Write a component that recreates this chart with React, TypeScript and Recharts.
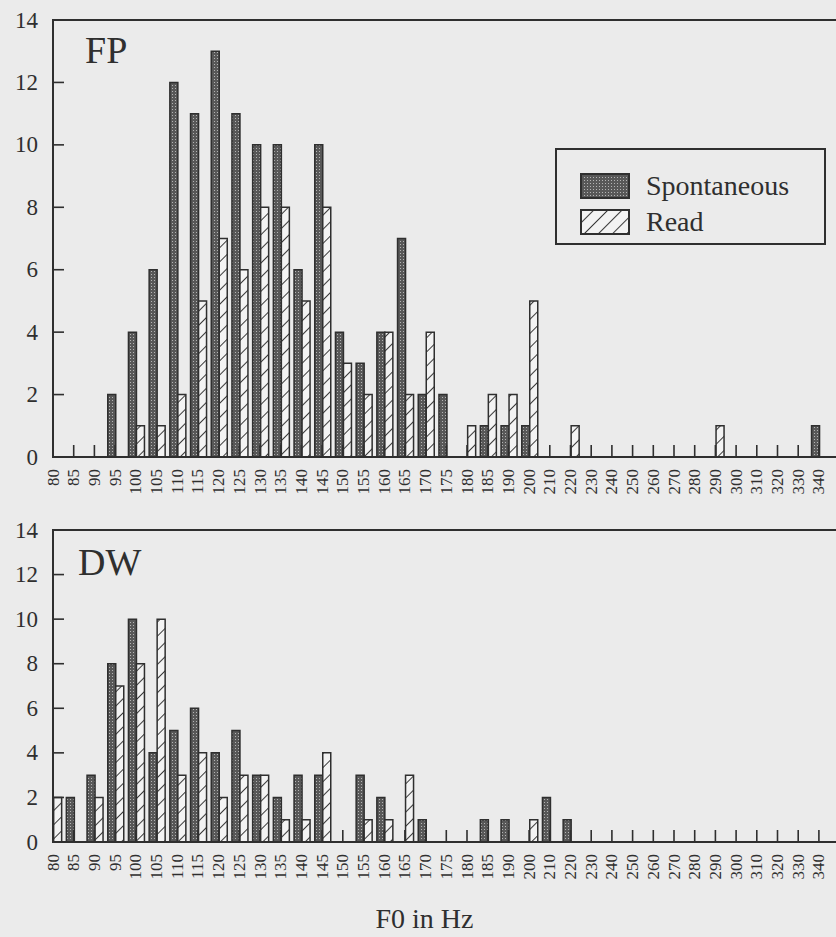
import React from "react";
import { BarChart, Bar, XAxis, YAxis, Legend, Label } from "recharts";

// F0 bins (Hz) as labelled on the x axis; note 195 is not a bin
const f0Bins = [
	"80", "85", "90", "95", "100", "105", "110", "115", "120", "125",
	"130", "135", "140", "145", "150", "155", "160", "165", "170", "175",
	"180", "185", "190", "200", "210", "220", "230", "240", "250", "260",
	"270", "280", "290", "300", "310", "320", "330", "340",
];

// speaker FP
const fpSpontaneous = [
	0, 0, 0, 2, 4, 6, 12, 11, 13, 11,
	10, 10, 6, 10, 4, 3, 4, 7, 2, 2,
	0, 1, 1, 1, 0, 0, 0, 0, 0, 0,
	0, 0, 0, 0, 0, 0, 0, 1,
];
const fpRead = [
	0, 0, 0, 0, 1, 1, 2, 5, 7, 6,
	8, 8, 5, 8, 3, 2, 4, 2, 4, 0,
	1, 2, 2, 5, 0, 1, 0, 0, 0, 0,
	0, 0, 1, 0, 0, 0, 0, 0,
];

// speaker DW
const dwSpontaneous = [
	0, 2, 3, 8, 10, 4, 5, 6, 4, 5,
	3, 2, 3, 3, 0, 3, 2, 0, 1, 0,
	0, 1, 1, 0, 2, 1, 0, 0, 0, 0,
	0, 0, 0, 0, 0, 0, 0, 0,
];
const dwRead = [
	2, 0, 2, 7, 8, 10, 3, 4, 2, 3,
	3, 1, 1, 4, 0, 1, 1, 3, 0, 0,
	0, 0, 0, 1, 0, 0, 0, 0, 0, 0,
	0, 0, 0, 0, 0, 0, 0, 0,
];

const countTicks = [0, 2, 4, 6, 8, 10, 12, 14];

const INK = "#2f2f2f";
const FONT = "'Liberation Serif', 'Times New Roman', serif";

// chart layout
const CHART_W = 860;
const MARGIN_TOP = 20;
const LEFT_AXIS_W = 53;
const RIGHT_AXIS_W = 20;

const buildRows = (spont: number[], read: number[]) =>
	f0Bins.map((f0, i) => ({ f0, spont: spont[i], read: read[i] }));

const fpRows = buildRows(fpSpontaneous, fpRead);
const dwRows = buildRows(dwSpontaneous, dwRead);

// bins start right on the y axis, so pull the band range a little to the left
const binPadding = { left: -9.35, right: 9.75 };

const swatchFill: Record<string, string> = {
	spont: "url(#spontFill)",
	read: "url(#readFill)",
};
const legendOrder = ["spont", "read"];

const BottomTick = (props: any) => {
	const { x, y, payload } = props;
	const tx = x - 1;
	return (
		<g>
			<line x1={tx} x2={tx} y1={y} y2={y - 12} stroke={INK} strokeWidth={1.6} />
			<text
				x={tx}
				y={y + 12}
				transform={`rotate(-90 ${tx} ${y + 12})`}
				textAnchor="end"
				dominantBaseline="central"
				fontSize={17}
				fontFamily={FONT}
				fill={INK}
			>
				{payload.value}
			</text>
		</g>
	);
};

const TopTick = (props: any) => {
	const { x, y } = props;
	return <line x1={x - 1} x2={x - 1} y1={y} y2={y + 11} stroke={INK} strokeWidth={1.6} />;
};

const LeftTick = (props: any) => {
	const { x, y, payload } = props;
	return (
		<g>
			<line x1={x} x2={x + 11} y1={y} y2={y} stroke={INK} strokeWidth={1.6} />
			<text
				x={x - 15}
				y={y}
				textAnchor="end"
				dominantBaseline="central"
				fontSize={23}
				fontFamily={FONT}
				fill={INK}
			>
				{payload.value}
			</text>
		</g>
	);
};

const RightTick = (props: any) => {
	const { x, y } = props;
	return <line x1={x} x2={x - 11} y1={y} y2={y} stroke={INK} strokeWidth={1.6} />;
};

const LegendBox = (props: any) => {
	const payload = [...(props.payload || [])].sort(
		(a: any, b: any) => legendOrder.indexOf(a.dataKey) - legendOrder.indexOf(b.dataKey)
	);
	return (
		<div
			style={{
				width: 271,
				height: 97,
				border: `2px solid ${INK}`,
				boxSizing: "border-box",
				position: "relative",
				fontFamily: FONT,
				color: INK,
			}}
		>
			{payload.map((entry: any, i: number) => (
				<div
					key={entry.value}
					style={{
						position: "absolute",
						left: 23,
						top: 23 + i * 36,
						height: 26,
						display: "flex",
						alignItems: "center",
						whiteSpace: "nowrap",
					}}
				>
					<svg width={50} height={26}>
						<rect
							x={1}
							y={1}
							width={48}
							height={24}
							fill={swatchFill[entry.dataKey]}
							stroke={INK}
							strokeWidth={2}
						/>
					</svg>
					<span style={{ marginLeft: 16, fontSize: 28, lineHeight: "26px" }}>{entry.value}</span>
				</div>
			))}
		</div>
	);
};

type PanelProps = {
	rows: { f0: string; spont: number; read: number }[];
	top: number;
	height: number;
	xAxisHeight: number;
	showLegend?: boolean;
	showTitle?: boolean;
};

const Panel = ({ rows, top, height, xAxisHeight, showLegend, showTitle }: PanelProps) => (
	<div style={{ position: "absolute", left: 0, top }}>
		<BarChart
			width={CHART_W}
			height={height}
			data={rows}
			margin={{ top: MARGIN_TOP, right: 0, bottom: 0, left: 0 }}
			barGap={0}
		>
			<XAxis
				dataKey="f0"
				height={xAxisHeight}
				padding={binPadding}
				interval={0}
				tickSize={0}
				tickMargin={0}
				tickLine={false}
				axisLine
				stroke={INK}
				strokeWidth={2}
				tick={BottomTick}
			>
				{showTitle && (
					<Label
						value="F0 in Hz"
						position="insideBottom"
						offset={9}
						dx={-22}
						fontSize={28}
						fontFamily={FONT}
						fill={INK}
					/>
				)}
			</XAxis>
			<XAxis
				xAxisId="top"
				orientation="top"
				dataKey="f0"
				height={0}
				padding={binPadding}
				interval={0}
				tickSize={0}
				tickMargin={0}
				tickLine={false}
				axisLine
				stroke={INK}
				strokeWidth={2}
				tick={TopTick}
			/>
			<YAxis
				domain={[0, 14]}
				ticks={countTicks}
				interval={0}
				width={LEFT_AXIS_W}
				tickSize={0}
				tickMargin={0}
				tickLine={false}
				axisLine
				stroke={INK}
				strokeWidth={2}
				tick={LeftTick}
			/>
			<YAxis
				yAxisId="right"
				orientation="right"
				domain={[0, 14]}
				ticks={countTicks}
				interval={0}
				width={RIGHT_AXIS_W}
				tickSize={0}
				tickMargin={0}
				tickLine={false}
				axisLine
				stroke={INK}
				strokeWidth={2}
				tick={RightTick}
			/>
			<Bar
				dataKey="spont"
				name="Spontaneous"
				barSize={8}
				fill="url(#spontFill)"
				stroke={INK}
				strokeWidth={1.5}
				isAnimationActive={false}
			/>
			<Bar
				dataKey="read"
				name="Read"
				barSize={8}
				fill="url(#readFill)"
				stroke={INK}
				strokeWidth={1.5}
				isAnimationActive={false}
			/>
			{showLegend && (
				<Legend
					layout="horizontal"
					verticalAlign="middle"
					align="center"
					content={LegendBox}
					wrapperStyle={{ left: 555, top: 148, width: 271, height: 97 }}
				/>
			)}
		</BarChart>
		{/* plot frame, the axis lines of the original figure */}
		<div
			style={{
				position: "absolute",
				left: LEFT_AXIS_W - 1,
				top: MARGIN_TOP - 1,
				width: CHART_W - LEFT_AXIS_W - RIGHT_AXIS_W + 2,
				height: height - MARGIN_TOP - xAxisHeight + 2,
				border: `2px solid ${INK}`,
				boxSizing: "border-box",
				pointerEvents: "none",
			}}
		/>
	</div>
);

const speakerLabel = (text: string, left: number, top: number) => (
	<div
		style={{
			position: "absolute",
			left,
			top,
			fontFamily: FONT,
			fontSize: 38,
			lineHeight: "38px",
			color: INK,
		}}
	>
		{text}
	</div>
);

export default function App() {
	return (
		<div
			style={{
				position: "absolute",
				left: 0,
				top: 0,
				width: 836,
				height: 937,
				overflow: "hidden",
				background: "#ebebeb",
			}}
		>
			<svg width={0} height={0} style={{ position: "absolute" }}>
				<defs>
					<pattern id="spontFill" width={3} height={3} patternUnits="userSpaceOnUse">
						<rect width={3} height={3} fill="#585858" />
						<rect x={1} y={1} width={1} height={1} fill="#b4b4b4" />
					</pattern>
					<pattern
						id="readFill"
						width={10}
						height={10}
						patternUnits="userSpaceOnUse"
						patternTransform="rotate(45)"
					>
						<rect width={10} height={10} fill="#f3f3f3" />
						<line x1={0} y1={0} x2={0} y2={10} stroke="#3a3a3a" strokeWidth={2} />
					</pattern>
				</defs>
			</svg>
			<Panel rows={fpRows} top={0} height={510} xAxisHeight={53} showLegend />
			<Panel rows={dwRows} top={510} height={427} xAxisHeight={95} showTitle />
			{speakerLabel("FP", 85, 31)}
			{speakerLabel("DW", 78, 543)}
		</div>
	);
}
